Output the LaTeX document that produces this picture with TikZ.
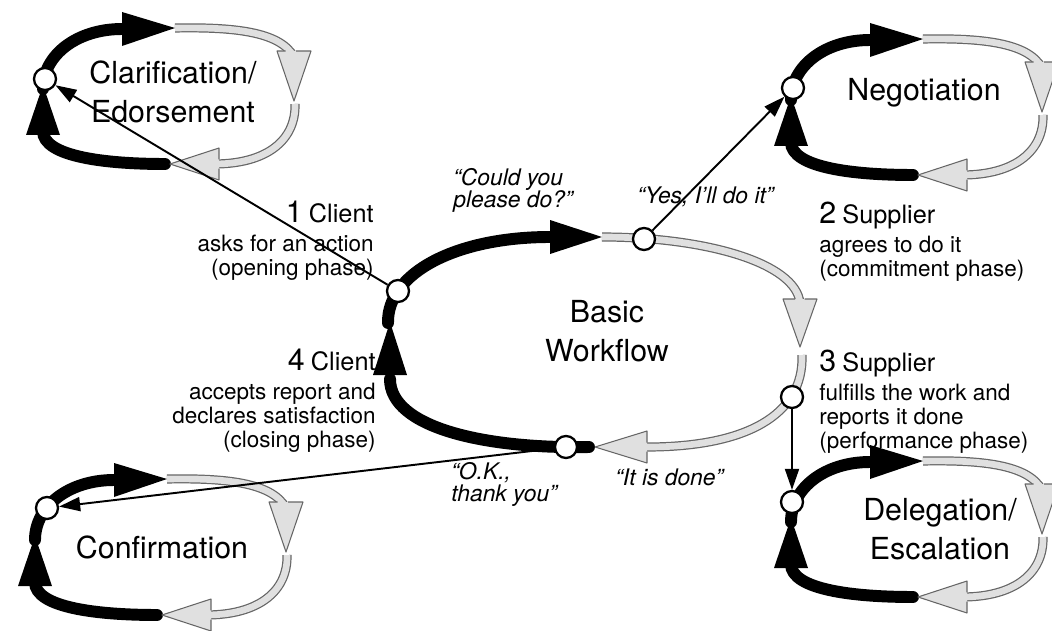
\documentclass[tikz,border=0pt]{standalone}
\usepackage{fontspec}
\setmainfont{TeX Gyre Heros}
\usepackage{tikz}
\usetikzlibrary{arrows.meta}

\begin{document}
\begin{tikzpicture}[x=0.02cm, y=0.02cm]
  \tikzset{
    port/.style={circle, draw, line width=1.3pt, fill=white, minimum size=0.44cm, inner sep=0pt},
    donepath/.style={line width=6.8pt, line cap=round},
    openpath/.style={draw=black!60, line width=5.2pt, postaction={draw=black!12, line width=3.8pt}},
    donehead/.style={fill=black},
    openhead/.style={draw=black!60, fill=black!12, line width=0.6pt, line join=round},
    link/.style={line width=1.1pt, -{Triangle[length=12pt, width=8pt]}},
    looplabel/.style={font=\LARGE, align=center},
    phasetext/.style={font=\fontsize{12.8}{13.5}\selectfont, inner sep=0pt},
    saying/.style={font=\fontsize{13}{12.5}\selectfont\itshape, align=left, inner sep=0pt}
  }
  \useasboundingbox (0,0) rectangle (1052,630);

  % Basic workflow loop
  \begin{scope}[shift={(596,287)}]
    \draw[donepath] (-208,20) .. controls (-209,70) and (-140,106) .. (-46,106);
    \draw[openpath] (6,106) .. controls (110,106) and (200,80) .. (204,40);
    \draw[openpath] (206,-12) .. controls (208,-72) and (150,-105) .. (46,-104);
    \draw[donepath] (-7,-104) .. controls (-110,-106) and (-206,-85) .. (-206,-36);
    \fill[donehead] (-46,123) -- (6,106) -- (-46,89) -- cycle;
    \filldraw[openhead] (208.5,44) -- (221,44) -- (204,-4) -- (187,44) -- (199,44);
    \filldraw[openhead] (51,-99.5) -- (51,-88) -- (-1,-104) -- (51,-120) -- (51,-108.5);
    \fill[donehead] (-223,-32) -- (-206,21) -- (-189,-32) -- cycle;
    \node[port] (wopen) at (-198,52) {};
    \node[port] (wcommit) at (48,104) {};
    \node[port] (wperform) at (196,-54) {};
    \node[port] (wclose) at (-30,-104) {};
    \node[looplabel] (basic) at (11,12) {Basic\\Workflow};
  \end{scope}

  % Clarification / Edorsement
  \begin{scope}[shift={(172,535)}]
    \draw[donepath] (-129,6) .. controls (-129,40) and (-95,66) .. (-50,66);
    \draw[openpath] (3,67) .. controls (60,68) and (108,64) .. (122,38);
    \draw[openpath] (123,-9) .. controls (124,-45) and (95,-69) .. (42,-69);
    \draw[donepath] (-7,-69) .. controls (-65,-69) and (-129,-62) .. (-129,-36);
    \fill[donehead] (-50,83) -- (3,67) -- (-50,49) -- cycle;
    \filldraw[openhead] (124,44) -- (139,44) -- (122,-6) -- (105,44) -- (113.5,44);
    \filldraw[openhead] (47,-64.4) -- (47,-53) -- (-2,-69) -- (47,-85) -- (47,-73.6);
    \fill[donehead] (-146,-40) -- (-129,10) -- (-112,-40) -- cycle;
    \node[port] (clar) at (-127,16) {};
    \node[looplabel] (clarname) at (1,3) {Clarification/\\Edorsement};
  \end{scope}

  % Negotiation
  \begin{scope}[shift={(920,524)}]
    \draw[donepath] (-129,6) .. controls (-129,40) and (-95,66) .. (-50,66);
    \draw[openpath] (3,67) .. controls (60,68) and (108,64) .. (122,38);
    \draw[openpath] (123,-9) .. controls (124,-45) and (95,-69) .. (42,-69);
    \draw[donepath] (-7,-69) .. controls (-65,-69) and (-129,-62) .. (-129,-36);
    \fill[donehead] (-50,83) -- (3,67) -- (-50,49) -- cycle;
    \filldraw[openhead] (124,44) -- (139,44) -- (122,-6) -- (105,44) -- (113.5,44);
    \filldraw[openhead] (47,-64.4) -- (47,-53) -- (-2,-69) -- (47,-85) -- (47,-73.6);
    \fill[donehead] (-146,-40) -- (-129,10) -- (-112,-40) -- cycle;
    \node[port] (nego) at (-127,18) {};
    \node[looplabel] (negoname) at (4,13) {Negotiation};
  \end{scope}

  % Confirmation
  \begin{scope}[shift={(164,84)}]
    \draw[donepath] (-129,6) .. controls (-129,40) and (-95,66) .. (-50,66);
    \draw[openpath] (3,67) .. controls (60,68) and (108,64) .. (122,38);
    \draw[openpath] (123,-9) .. controls (124,-45) and (95,-69) .. (42,-69);
    \draw[donepath] (-7,-69) .. controls (-65,-69) and (-129,-62) .. (-129,-36);
    \fill[donehead] (-50,83) -- (3,67) -- (-50,49) -- cycle;
    \filldraw[openhead] (124,44) -- (139,44) -- (122,-6) -- (105,44) -- (113.5,44);
    \filldraw[openhead] (47,-64.4) -- (47,-53) -- (-2,-69) -- (47,-85) -- (47,-73.6);
    \fill[donehead] (-146,-40) -- (-129,10) -- (-112,-40) -- cycle;
    \node[port] (conf) at (-117,38) {};
    \node[looplabel] (confname) at (-2,-1) {Confirmation};
  \end{scope}

  % Delegation / Escalation
  \begin{scope}[shift={(920,102)}]
    \draw[donepath] (-129,6) .. controls (-129,40) and (-95,66) .. (-50,66);
    \draw[openpath] (3,67) .. controls (60,68) and (108,64) .. (122,38);
    \draw[openpath] (123,-9) .. controls (124,-45) and (95,-69) .. (42,-69);
    \draw[donepath] (-7,-69) .. controls (-65,-69) and (-129,-62) .. (-129,-36);
    \fill[donehead] (-50,83) -- (3,67) -- (-50,49) -- cycle;
    \filldraw[openhead] (124,44) -- (139,44) -- (122,-6) -- (105,44) -- (113.5,44);
    \filldraw[openhead] (47,-64.4) -- (47,-53) -- (-2,-69) -- (47,-85) -- (47,-73.6);
    \fill[donehead] (-146,-40) -- (-129,10) -- (-112,-40) -- cycle;
    \node[port] (dele) at (-128,26) {};
    \node[looplabel] (delename) at (20,-1) {Delegation/\\Escalation};
  \end{scope}

  % phases of the loop
  \node[phasetext, anchor=north east, align=right] (client1) at (374,429)
    {{\LARGE 1} {\Large Client}\\[3pt] asks for an action\\(opening phase)};
  \node[phasetext, anchor=north west, align=left] (supplier2) at (819,428)
    {{\LARGE 2} {\Large Supplier}\\[3pt] agrees to do it\\(commitment phase)};
  \node[phasetext, anchor=north west, align=left] (supplier3) at (819,280)
    {{\LARGE 3} {\Large Supplier}\\[3pt] fulfills the work and\\reports it done\\(performance phase)};
  \node[phasetext, anchor=north east, align=right] (client4) at (376,281)
    {{\LARGE 4} {\Large Client}\\[3pt] accepts report and\\declares satisfaction\\(closing phase)};

  % what is said at each step
  \node[saying, anchor=north west] (ask) at (453,462) {“Could you\\please do?”};
  \node[saying, anchor=base west] (yes) at (637,427) {“Yes, I’ll do it”};
  \node[saying, anchor=north west] (thanks) at (451,168) {“O.K.,\\thank you”};
  \node[saying, anchor=base west] (done) at (615,145) {“It is done”};

  % links to the sub-loops
  \draw[link] (wopen) -- (clar);
  \draw[link] (wcommit) -- (nego);
  \draw[link] (wperform) -- (dele);
  \draw[link] (wclose) -- (conf);
\end{tikzpicture}
\end{document}
